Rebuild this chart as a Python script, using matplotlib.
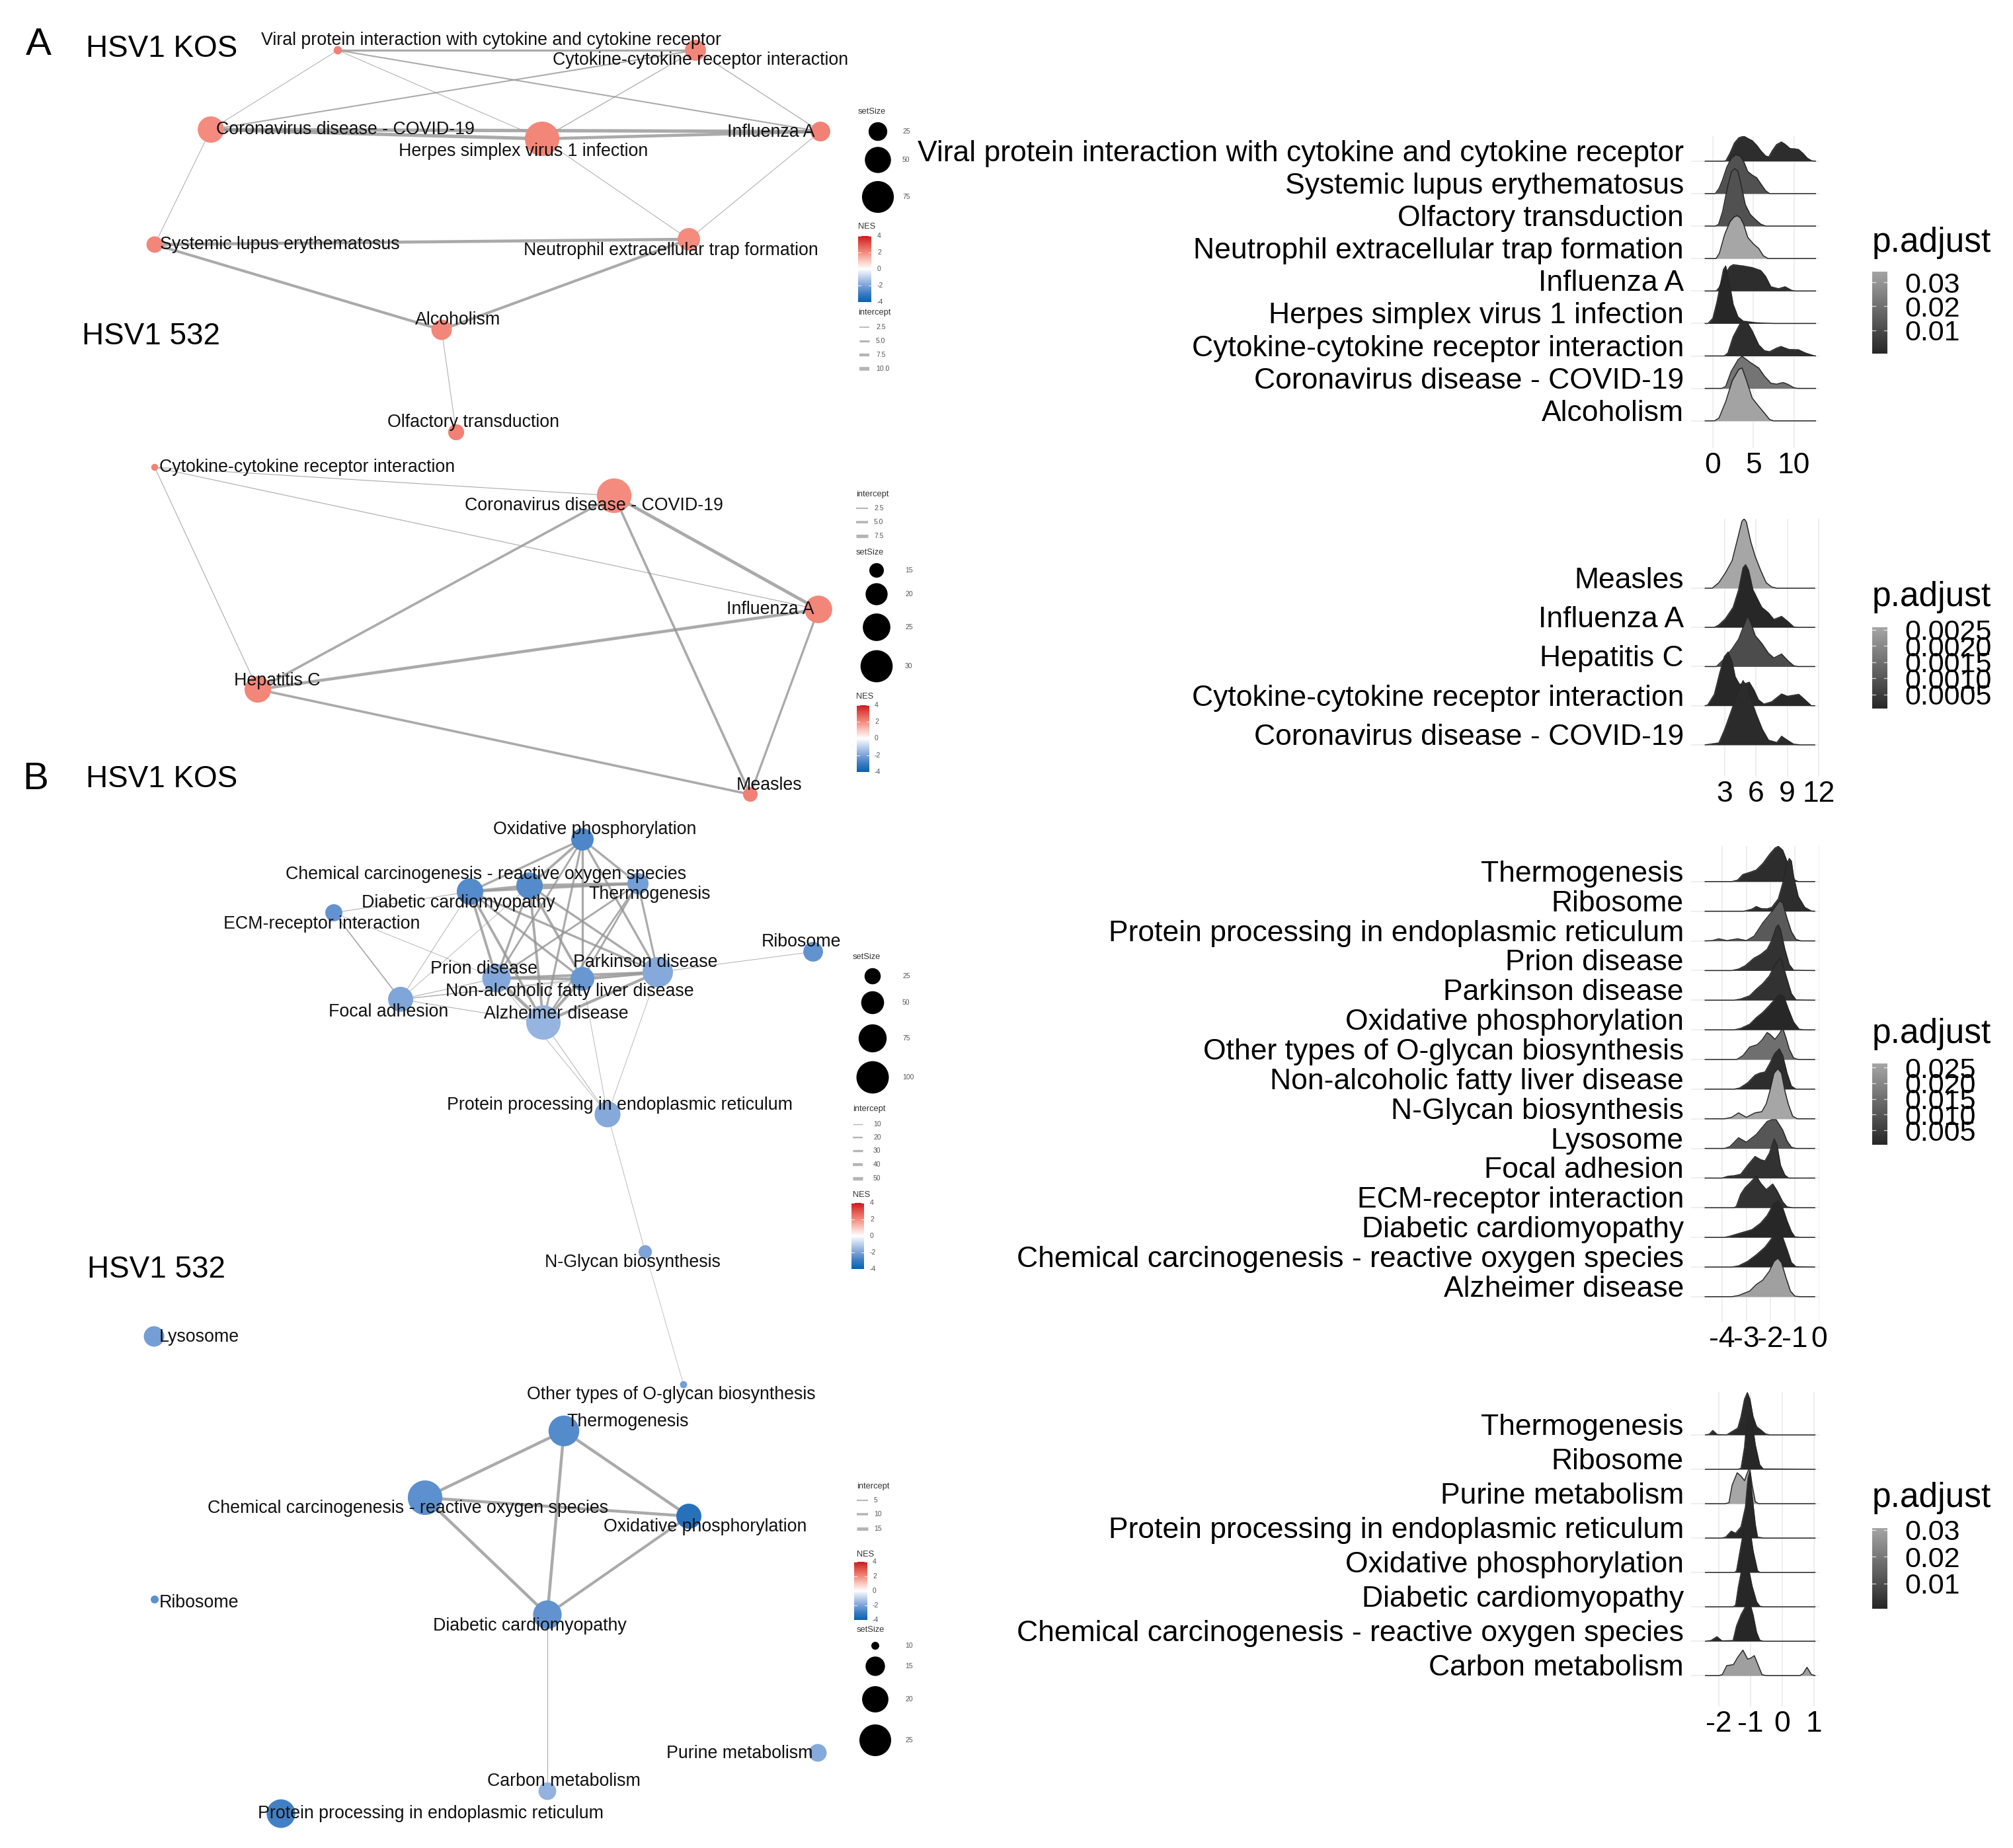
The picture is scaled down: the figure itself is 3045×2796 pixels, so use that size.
import numpy as np
import matplotlib
matplotlib.use("Agg")
import matplotlib.pyplot as plt
from matplotlib.colors import LinearSegmentedColormap, Normalize

plt.rcParams['font.family'] = ['Liberation Sans', 'DejaVu Sans']

W, H, DPI = 3045, 2796, 100

# ----------------- colour scales -----------------
NES_STOPS = [-4, -3, -2, -1, 0, 1, 2, 3, 4]
NES_COLORS = ['#0a61b0', '#3b7cc3', '#7ca3d8', '#bccfec', '#ffffff',
              '#fbc9c0', '#f48c7f', '#e3564c', '#cc1b22']
NES_TICKS = [4, 2, 0, -2, -4]
nes_cmap = LinearSegmentedColormap.from_list(
    'nes', list(zip([(s + 4) / 8 for s in NES_STOPS], NES_COLORS)))
nes_norm = Normalize(-4, 4)
padj_cmap = LinearSegmentedColormap.from_list('padj', ['#272727', '#a6a6a6'])

EDGE_COLOR = '#959595'
LEG_TITLE = '#333333'
LEG_TEXT = '#555555'

# ================= network data =================
# --- A, HSV1 KOS ---
a_kos_terms = ["Viral protein interaction with cytokine and cytokine receptor",
               "Cytokine-cytokine receptor interaction", "Coronavirus disease - COVID-19",
               "Herpes simplex virus 1 infection", "Influenza A", "Systemic lupus erythematosus",
               "Neutrophil extracellular trap formation", "Alcoholism", "Olfactory transduction"]
a_kos_x = [511, 1052, 319, 820, 1241, 234, 1042, 668, 690]
a_kos_y = [76, 76, 196, 210, 199, 370, 362, 499, 654]
a_kos_size = [4, 32, 51, 88, 28, 19, 37, 30, 18]
a_kos_nes = [2.2, 2.1, 2.0, 2.1, 2.2, 2.1, 2.0, 2.1, 2.2]
a_kos_edges = [(0, 1, 5), (0, 2, 1), (0, 3, 1), (0, 4, 3), (1, 2, 3), (1, 3, 1.5),
               (1, 4, 1.5), (2, 3, 9), (2, 4, 9), (3, 4, 8), (2, 5, 1), (3, 6, 1),
               (4, 6, 1), (5, 6, 8), (5, 7, 7), (6, 7, 7), (7, 8, 1)]
a_kos_lab_x = [743, 1060, 522, 792, 1166, 423, 1015, 693, 716]
a_kos_lab_y = [61, 91, 196, 229, 200, 370, 379, 484, 639]

# --- A, HSV1 532 ---
a_532_terms = ["Cytokine-cytokine receptor interaction", "Coronavirus disease - COVID-19",
               "Influenza A", "Hepatitis C", "Measles"]
a_532_x = [234, 929, 1238, 390, 1135]
a_532_y = [707, 750, 922, 1043, 1202]
a_532_size = [12, 33, 25, 24, 15]
a_532_nes = [2.2, 2.0, 2.1, 2.1, 2.2]
a_532_edges = [(0, 1, 1), (0, 2, 1), (0, 3, 1), (1, 3, 5), (1, 2, 7), (1, 4, 5),
               (3, 2, 6.5), (3, 4, 5), (2, 4, 4.5)]
a_532_lab_x = [465, 898, 1165, 419, 1164]
a_532_lab_y = [707, 765, 922, 1030, 1188]

# --- B, HSV1 KOS ---
b_kos_terms = ["Oxidative phosphorylation", "Chemical carcinogenesis - reactive oxygen species",
               "Diabetic cardiomyopathy", "Thermogenesis", "ECM-receptor interaction",
               "Prion disease", "Non-alcoholic fatty liver disease", "Parkinson disease",
               "Focal adhesion", "Alzheimer disease", "Protein processing in endoplasmic reticulum",
               "N-Glycan biosynthesis", "Ribosome", "Lysosome",
               "Other types of O-glycan biosynthesis"]
b_kos_x = [881, 801, 711, 965, 505, 751, 881, 995, 606, 822, 919, 976, 1230, 233, 1034]
b_kos_y = [1270, 1340, 1349, 1337, 1381, 1480, 1481, 1471, 1512, 1547, 1686, 1894, 1440, 2022, 2095]
b_kos_size = [48, 67, 67, 43, 28, 77, 54, 88, 60, 113, 64, 17, 37, 40, 5]
b_kos_nes = [-2.7, -2.6, -2.6, -2.1, -2.4, -1.9, -2.3, -1.85, -1.95, -1.6, -1.85,
             -2.0, -2.4, -2.1, -2.1]
b_kos_edges = [(0, 1, 35), (0, 2, 30), (0, 3, 30), (0, 5, 25), (0, 6, 30), (0, 7, 30), (0, 9, 28),
               (1, 2, 40), (1, 3, 45), (1, 5, 30), (1, 6, 35), (1, 7, 30), (1, 9, 35),
               (2, 3, 30), (2, 5, 35), (2, 6, 30), (2, 7, 30), (2, 9, 35),
               (3, 5, 25), (3, 6, 25), (3, 7, 28), (3, 9, 25),
               (5, 6, 40), (5, 7, 35), (5, 9, 45), (6, 7, 45), (6, 9, 40), (7, 9, 40),
               (4, 2, 6), (4, 8, 14), (4, 5, 4), (8, 2, 5), (8, 1, 4), (8, 5, 6), (8, 6, 5),
               (8, 9, 6), (8, 7, 4), (7, 12, 5), (10, 9, 5), (10, 5, 4), (10, 6, 4),
               (10, 7, 4), (10, 11, 4), (11, 14, 3)]
b_kos_lab_x = [900, 735, 693, 983, 487, 732, 862, 976, 588, 841, 937, 957, 1212, 301, 1015]
b_kos_lab_y = [1255, 1323, 1366, 1353, 1398, 1466, 1500, 1456, 1531, 1534, 1672, 1910, 1425, 2023, 2110]

# --- B, HSV1 532 ---
b_532_terms = ["Thermogenesis", "Chemical carcinogenesis - reactive oxygen species",
               "Oxidative phosphorylation", "Ribosome", "Diabetic cardiomyopathy",
               "Purine metabolism", "Carbon metabolism",
               "Protein processing in endoplasmic reticulum"]
b_532_x = [853, 643, 1042, 234, 828, 1237, 828, 425]
b_532_y = [2165, 2266, 2294, 2420, 2443, 2652, 2710, 2744]
b_532_size = [24, 28, 19, 10, 22, 14, 14, 22]
b_532_nes = [-2.6, -2.5, -3.4, -2.5, -2.4, -1.85, -1.65, -2.9]
b_532_edges = [(0, 1, 13), (0, 2, 13), (0, 4, 13), (1, 2, 13), (1, 4, 13), (2, 4, 12), (4, 6, 2)]
b_532_lab_x = [950, 617, 1067, 301, 801, 1119, 853, 652]
b_532_lab_y = [2151, 2282, 2310, 2425, 2460, 2653, 2695, 2744]

# ================= ridge data (density heights in row units) =================
ridge_a_kos_terms = ["Viral protein interaction with cytokine and cytokine receptor",
                     "Systemic lupus erythematosus", "Olfactory transduction",
                     "Neutrophil extracellular trap formation", "Influenza A",
                     "Herpes simplex virus 1 infection", "Cytokine-cytokine receptor interaction",
                     "Coronavirus disease - COVID-19", "Alcoholism"]
ridge_a_kos_padj = [0.0020, 0.0116, 0.0116, 0.0344, 0.0021, 0.00033, 0.002, 0.021, 0.0335]
ridge_a_kos_x = [
    [-0.95, 1.3, 1.6, 2.1, 2.66, 3.2, 3.8, 4.3, 4.85, 5.4, 5.94, 6.5, 6.9, 7.3, 7.85, 8.45, 8.9, 9.5, 10.0, 10.55, 11.1, 11.65, 12.2, 12.65],
    [-0.95, 0.3, 0.76, 1.17, 1.71, 2.26, 2.8, 3.35, 3.8, 4.3, 4.85, 5.4, 5.94, 6.5, 7.0, 12.65],
    [-0.95, 0.3, 0.7, 1.2, 1.6, 1.9, 2.3, 2.7, 3.1, 3.5, 4.0, 4.6, 5.25, 5.9, 6.5, 12.65],
    [-0.95, 0.4, 0.8, 1.45, 2.1, 2.6, 3.0, 3.4, 3.8, 4.3, 5.0, 5.65, 6.2, 6.8, 12.65],
    [-0.95, 0.4, 0.76, 1.45, 2.1, 2.5, 3.75, 4.85, 5.9, 6.5, 7.15, 8.1, 8.9, 9.7, 10.2, 12.65],
    [-0.95, -0.6, 0.0, 0.5, 0.9, 1.3, 1.58, 2.0, 2.5, 3.1, 3.75, 5.4, 7.5, 12.65],
    [-0.95, 1.4, 1.85, 2.5, 3.35, 4.15, 4.85, 5.65, 6.35, 7.0, 7.85, 8.4, 9.35, 10.55, 11.4, 12.4, 12.65],
    [-0.95, 1.1, 1.58, 2.25, 3.1, 3.6, 4.55, 5.65, 6.35, 7.15, 7.85, 8.65, 9.2, 10.0, 10.5, 12.65],
    [-0.95, 0.2, 0.76, 1.58, 2.4, 3.2, 3.6, 4.15, 4.85, 5.65, 6.35, 7.0, 7.5, 12.65]]
ridge_a_kos_h = [
    [0, 0, 0.01, 0.24, 0.56, 0.72, 0.77, 0.7, 0.63, 0.49, 0.31, 0.16, 0.13, 0.31, 0.51, 0.59, 0.52, 0.39, 0.38, 0.36, 0.24, 0.09, 0.01, 0],
    [0, 0, 0.16, 0.41, 0.81, 1.09, 1.2, 1.16, 0.99, 0.68, 0.57, 0.49, 0.29, 0.09, 0, 0],
    [0, 0, 0.05, 0.45, 0.95, 1.3, 1.68, 1.77, 1.68, 1.24, 0.66, 0.36, 0.2, 0.06, 0, 0],
    [0, 0, 0.16, 0.74, 1.13, 1.28, 1.32, 1.25, 1.05, 0.65, 0.45, 0.31, 0.09, 0, 0],
    [0, 0, 0.1, 0.5, 0.75, 0.81, 0.77, 0.72, 0.63, 0.45, 0.13, 0.07, 0.13, 0.02, 0, 0],
    [0, 0, 0.16, 0.66, 1.16, 1.66, 1.77, 1.3, 0.59, 0.2, 0.07, 0.02, 0, 0],
    [0, 0, 0.09, 0.59, 0.99, 1.06, 0.77, 0.34, 0.16, 0.13, 0.24, 0.29, 0.2, 0.19, 0.09, 0.01, 0],
    [0, 0, 0.06, 0.52, 0.88, 0.99, 0.81, 0.63, 0.38, 0.16, 0.13, 0.18, 0.13, 0.02, 0, 0],
    [0, 0, 0.09, 0.59, 1.24, 1.59, 1.63, 1.24, 0.7, 0.45, 0.24, 0.04, 0, 0]]

ridge_a_532_terms = ["Measles", "Influenza A", "Hepatitis C",
                     "Cytokine-cytokine receptor interaction", "Coronavirus disease - COVID-19"]
ridge_a_532_padj = [0.00258, 0.00007, 0.0008, 0.0001, 0.00015]
ridge_a_532_x = [
    [1.12, 1.8, 2.43, 3.06, 3.7, 4.23, 4.65, 4.86, 5.07, 5.5, 5.92, 6.45, 6.97, 7.5, 8.0, 11.63],
    [1.12, 2.0, 2.43, 3.06, 3.8, 4.33, 4.75, 5.0, 5.28, 5.7, 6.13, 6.55, 7.19, 7.71, 8.45, 9.09, 9.62, 10.0, 11.63],
    [1.12, 2.2, 2.85, 3.7, 4.33, 4.86, 5.18, 5.5, 5.92, 6.55, 7.19, 7.71, 8.45, 9.09, 9.62, 10.0, 11.63],
    [1.12, 1.37, 2.0, 2.53, 2.96, 3.32, 3.7, 4.0, 4.4, 4.8, 5.35, 5.8, 6.23, 6.76, 7.5, 8.45, 9.0, 10.1, 10.57, 11.3, 11.63],
    [1.12, 2.43, 3.0, 3.6, 4.2, 4.75, 5.2, 5.6, 6.0, 6.6, 7.2, 8.0, 8.45, 9.0, 9.6, 10.2, 11.63]]
ridge_a_532_h = [
    [0, 0, 0.14, 0.39, 0.7, 1.26, 1.71, 1.77, 1.69, 1.18, 0.81, 0.45, 0.14, 0.03, 0, 0],
    [0, 0, 0.06, 0.22, 0.51, 0.96, 1.52, 1.6, 1.46, 0.96, 0.73, 0.51, 0.37, 0.2, 0.28, 0.14, 0.01, 0, 0],
    [0, 0, 0.17, 0.45, 0.7, 1.07, 1.29, 1.12, 0.79, 0.59, 0.34, 0.22, 0.32, 0.14, 0.02, 0, 0],
    [0, 0.02, 0.29, 0.85, 1.25, 1.37, 1.13, 0.74, 0.55, 0.55, 0.6, 0.4, 0.15, 0.04, 0.1, 0.3, 0.24, 0.29, 0.18, 0, 0],
    [0, 0.05, 0.4, 0.85, 1.3, 1.64, 1.45, 1.1, 0.8, 0.4, 0.12, 0.06, 0.22, 0.12, 0.02, 0, 0]]

ridge_b_kos_terms = ["Thermogenesis", "Ribosome", "Protein processing in endoplasmic reticulum",
                     "Prion disease", "Parkinson disease", "Oxidative phosphorylation",
                     "Other types of O-glycan biosynthesis", "Non-alcoholic fatty liver disease",
                     "N-Glycan biosynthesis", "Lysosome", "Focal adhesion",
                     "ECM-receptor interaction", "Diabetic cardiomyopathy",
                     "Chemical carcinogenesis - reactive oxygen species", "Alzheimer disease"]
ridge_b_kos_padj = [0.0016, 0.0016, 0.0107, 0.0026, 0.0026, 0.00037, 0.015, 0.0016,
                    0.0263, 0.0099, 0.0026, 0.0026, 0.0004, 0.0004, 0.025]
ridge_b_kos_x = [
    [-4.7, -3.6, -3.36, -3.14, -2.86, -2.59, -2.32, -2.05, -1.82, -1.68, -1.5, -1.32, -1.14, -1.0, -0.85, -0.18],
    [-4.7, -3.1, -2.77, -2.59, -2.4, -2.15, -1.95, -1.68, -1.5, -1.36, -1.23, -1.14, -1.05, -0.86, -0.59, -0.32, -0.18],
    [-4.7, -4.4, -4.14, -3.8, -3.36, -3.0, -2.68, -2.32, -1.95, -1.64, -1.5, -1.32, -1.14, -0.95, -0.75, -0.18],
    [-4.7, -3.6, -3.32, -3.05, -2.68, -2.41, -2.14, -1.95, -1.77, -1.68, -1.59, -1.41, -1.23, -1.05, -0.18],
    [-4.7, -3.5, -3.23, -2.86, -2.59, -2.32, -2.05, -1.86, -1.64, -1.55, -1.36, -1.14, -0.95, -0.18],
    [-4.7, -3.5, -3.23, -2.86, -2.59, -2.32, -2.05, -1.77, -1.59, -1.45, -1.27, -1.05, -0.82, -0.6, -0.18],
    [-4.7, -3.4, -3.14, -2.86, -2.55, -2.36, -2.14, -2.0, -1.82, -1.64, -1.5, -1.36, -1.23, -1.05, -0.85, -0.18],
    [-4.7, -3.5, -3.27, -2.95, -2.64, -2.45, -2.23, -2.05, -1.82, -1.64, -1.5, -1.32, -1.14, -0.95, -0.18],
    [-4.7, -3.9, -3.6, -3.32, -3.0, -2.64, -2.36, -2.18, -2.05, -1.86, -1.7, -1.55, -1.41, -1.27, -1.09, -0.9, -0.18],
    [-4.7, -3.9, -3.68, -3.32, -3.0, -2.59, -2.14, -1.95, -1.77, -1.5, -1.32, -1.14, -0.95, -0.18],
    [-4.7, -4.0, -3.77, -3.5, -3.23, -2.95, -2.64, -2.41, -2.23, -2.05, -1.85, -1.73, -1.59, -1.41, -1.25, -0.18],
    [-4.7, -3.5, -3.41, -3.23, -3.05, -2.86, -2.59, -2.41, -2.18, -1.91, -1.73, -1.5, -1.32, -1.1, -0.18],
    [-4.7, -3.9, -3.68, -3.23, -2.77, -2.41, -2.14, -1.86, -1.68, -1.5, -1.32, -1.14, -1.0, -0.8, -0.18],
    [-4.7, -3.6, -3.32, -2.95, -2.59, -2.23, -1.95, -1.68, -1.55, -1.32, -1.14, -0.95, -0.18],
    [-4.7, -3.6, -3.32, -2.86, -2.59, -2.32, -2.05, -1.86, -1.7, -1.55, -1.36, -1.18, -1.0, -0.8, -0.18]]
ridge_b_kos_h = [
    [0, 0, 0.05, 0.24, 0.31, 0.39, 0.61, 0.91, 1.13, 1.19, 1.06, 0.68, 0.24, 0.05, 0, 0],
    [0, 0, 0.07, 0.16, 0.09, 0.08, 0.13, 0.42, 0.94, 1.5, 1.78, 1.69, 1.17, 0.5, 0.13, 0.01, 0],
    [0, 0.01, 0.07, 0.01, 0.07, 0.01, 0.16, 0.61, 0.98, 1.35, 1.28, 0.76, 0.31, 0.05, 0, 0],
    [0, 0, 0.05, 0.16, 0.42, 0.54, 0.72, 1.02, 1.46, 1.54, 1.39, 0.72, 0.2, 0.01, 0],
    [0, 0, 0.04, 0.15, 0.37, 0.56, 0.82, 1.12, 1.41, 1.34, 0.82, 0.22, 0.01, 0],
    [0, 0, 0.05, 0.19, 0.41, 0.59, 0.82, 1.08, 1.19, 1.12, 0.71, 0.26, 0.02, 0, 0],
    [0, 0, 0.13, 0.42, 0.5, 0.65, 0.91, 0.83, 0.68, 0.87, 1.06, 0.72, 0.35, 0.05, 0, 0],
    [0, 0, 0.04, 0.21, 0.47, 0.54, 0.58, 0.84, 1.21, 1.36, 1.14, 0.54, 0.1, 0, 0],
    [0, 0, 0.05, 0.2, 0.05, 0.2, 0.24, 0.5, 0.87, 1.54, 1.69, 1.54, 0.94, 0.5, 0.09, 0, 0],
    [0, 0, 0.06, 0.36, 0.21, 0.47, 0.91, 0.97, 0.97, 0.62, 0.25, 0.04, 0, 0],
    [0, 0, 0.06, 0.08, 0.13, 0.43, 0.73, 0.62, 0.58, 0.84, 1.32, 1.1, 0.43, 0.1, 0, 0],
    [0, 0, 0.05, 0.46, 0.68, 0.83, 1.07, 0.83, 0.61, 0.8, 0.57, 0.2, 0.03, 0, 0],
    [0, 0, 0.04, 0.15, 0.26, 0.48, 0.74, 1.15, 1.23, 1.0, 0.56, 0.19, 0.02, 0, 0],
    [0, 0, 0.04, 0.19, 0.41, 0.67, 0.97, 1.26, 1.12, 0.59, 0.15, 0.01, 0],
    [0, 0, 0.04, 0.19, 0.41, 0.56, 0.86, 1.19, 1.3, 1.15, 0.63, 0.19, 0.02, 0, 0]]

ridge_b_532_terms = ["Thermogenesis", "Ribosome", "Purine metabolism",
                     "Protein processing in endoplasmic reticulum", "Oxidative phosphorylation",
                     "Diabetic cardiomyopathy", "Chemical carcinogenesis - reactive oxygen species",
                     "Carbon metabolism"]
ridge_b_532_padj = [0.0013, 0.0008, 0.0307, 0.0006, 0.0006, 0.0007, 0.0008, 0.029]
ridge_b_532_x = [
    [-2.42, -2.3, -2.19, -2.05, -1.75, -1.65, -1.4, -1.3, -1.19, -1.1, -1.02, -0.92, -0.81, -0.67, -0.53, -0.4, 1.03],
    [-2.42, -1.4, -1.3, -1.19, -1.13, -1.03, -0.95, -0.85, -0.71, -0.6, 1.03],
    [-2.42, -1.8, -1.68, -1.58, -1.42, -1.3, -1.19, -1.13, -1.03, -0.95, -0.85, -0.75, 1.03],
    [-2.42, -1.9, -1.78, -1.61, -1.47, -1.3, -1.16, -1.08, -1.02, -0.95, -0.85, -0.78, -0.6, 1.03],
    [-2.42, -1.5, -1.44, -1.33, -1.23, -1.1, -1.02, -0.92, -0.78, -0.7, 1.03],
    [-2.42, -1.55, -1.47, -1.38, -1.26, -1.17, -1.09, -0.95, -0.81, -0.71, -0.6, 1.03],
    [-2.42, -2.25, -2.06, -1.9, -1.55, -1.44, -1.3, -1.13, -1.03, -0.92, -0.81, -0.71, -0.6, 1.03],
    [-2.42, -2.0, -1.89, -1.75, -1.54, -1.4, -1.24, -1.09, -0.99, -0.88, -0.78, -0.64, -0.5, 0.55, 0.65, 0.78, 0.92, 1.03]]
ridge_b_532_h = [
    [0, 0.02, 0.13, 0.01, 0, 0.06, 0.2, 0.53, 1.04, 1.23, 1.04, 0.53, 0.24, 0.14, 0.03, 0, 0],
    [0, 0, 0.03, 0.64, 1.28, 1.62, 1.35, 0.71, 0.13, 0.01, 0],
    [0, 0, 0.03, 0.54, 0.9, 0.8, 0.67, 0.83, 1.06, 0.54, 0.06, 0, 0],
    [0, 0, 0.03, 0.2, 0.14, 0.33, 0.91, 1.74, 1.94, 1.23, 0.4, 0.03, 0, 0],
    [0, 0, 0.05, 0.63, 1.14, 1.58, 1.27, 0.63, 0.05, 0, 0],
    [0, 0, 0.05, 0.6, 1.17, 1.46, 1.24, 0.6, 0.15, 0.02, 0, 0],
    [0, 0.02, 0.13, 0.01, 0.02, 0.45, 0.77, 1.06, 1.15, 0.77, 0.26, 0.03, 0, 0],
    [0, 0, 0.03, 0.29, 0.32, 0.54, 0.74, 0.48, 0.51, 0.58, 0.35, 0.03, 0, 0, 0.05, 0.24, 0.03, 0]]

# ================= figure =================
fig = plt.figure(figsize=(W / DPI, H / DPI), dpi=DPI)
canvas = fig.add_axes([0, 0, 1, 1])
canvas.set_xlim(0, W)
canvas.set_ylim(H, 0)
canvas.axis('off')


def px_rect(left, top, right, bottom):
    return [left / W, 1 - bottom / H, (right - left) / W, (bottom - top) / H]


def radius(sizes, a, b):
    return np.sqrt(np.maximum(a * np.asarray(sizes, float) + b, 4))


def draw_network(xs, ys, sizes, nes, edges, terms, lab_x, lab_y, area, lw):
    for i, j, w in edges:
        canvas.plot([xs[i], xs[j]], [ys[i], ys[j]], color=EDGE_COLOR, alpha=0.8,
                    lw=lw[0] + lw[1] * w, solid_capstyle='butt', zorder=1)
    r = radius(sizes, *area)
    canvas.scatter(xs, ys, s=(2 * r * 72 / DPI) ** 2, c=nes, cmap=nes_cmap, norm=nes_norm,
                   edgecolors='none', zorder=2)
    for t, x, y in zip(terms, lab_x, lab_y):
        canvas.text(x, y, t, fontsize=19.3, ha='center', va='center', color='#111111', zorder=3)


def size_legend(tx, ty, values, cx, cys, lab_x, area):
    canvas.text(tx, ty, "setSize", fontsize=9.3, color=LEG_TITLE, va='center')
    r = radius(values, *area)
    canvas.scatter([cx] * len(values), cys, s=(2 * r * 72 / DPI) ** 2, color='black',
                   edgecolors='none', zorder=2)
    for v, y in zip(values, cys):
        canvas.text(lab_x, y, str(v), fontsize=7.5, color=LEG_TEXT, va='center')


def width_legend(tx, ty, values, x0, x1, ys, lab_x, lw, fmt):
    canvas.text(tx, ty, "intercept", fontsize=9.3, color=LEG_TITLE, va='center')
    for v, y in zip(values, ys):
        canvas.plot([x0, x1], [y, y], color='#b5b5b5', lw=lw[0] + lw[1] * v, solid_capstyle='butt')
        canvas.text(lab_x, y, fmt.format(v), fontsize=7.5, color=LEG_TEXT, va='center')


def nes_legend(tx, ty, rect, lab_x):
    canvas.text(tx, ty, "NES", fontsize=9.3, color=LEG_TITLE, va='center')
    left, top, right, bottom = rect
    cax = fig.add_axes(px_rect(*rect))
    grad = np.linspace(-4, 4, 256).reshape(-1, 1)
    cax.imshow(grad, aspect='auto', cmap=nes_cmap, norm=nes_norm, origin='lower',
               extent=[0, 1, -4, 4])
    for t in NES_TICKS:
        cax.plot([0, 0.2], [t, t], color='white', lw=0.6)
        cax.plot([0.8, 1], [t, t], color='white', lw=0.6)
        canvas.text(lab_x, top + (4 - t) / 8 * (bottom - top), str(t), fontsize=7.5,
                    color=LEG_TEXT, va='center')
    cax.set_xlim(0, 1)
    cax.set_ylim(-4, 4)
    cax.set_axis_off()


def draw_ridges(rect, xlim, ylim, terms, padj, xs, hs, ticks, cb_rect, cb_ticks, cb_labels, title_y):
    ax = fig.add_axes(px_rect(*rect))
    n = len(terms)
    norm = Normalize(min(padj), max(padj))
    for t in ticks:
        ax.axvline(t, color='#ebebeb', lw=1.2, zorder=0)
    for k in range(n):
        ax.axhline(k, color='#ebebeb', lw=1.2, zorder=0)
    for i in range(n):
        base = n - 1 - i
        x = np.asarray(xs[i])
        top = base + np.asarray(hs[i])
        ax.fill_between(x, base, top, color=padj_cmap(norm(padj[i])), lw=0, zorder=2 + 2 * i)
        ax.plot(x, top, color='#262626', lw=1.1, zorder=3 + 2 * i)
    ax.set_xlim(xlim)
    ax.set_ylim(ylim)
    ax.set_yticks(range(n))
    ax.set_yticklabels(terms[::-1], fontsize=32)
    for lab in ax.get_yticklabels():
        lab.set_va('baseline')
    ax.set_xticks(ticks)
    ax.set_xticklabels([str(t) for t in ticks], fontsize=32)
    ax.tick_params(axis='y', length=0, pad=8)
    ax.tick_params(axis='x', length=0, pad=4)
    for s in ax.spines.values():
        s.set_visible(False)
    ax.set_facecolor('none')

    # p.adjust colour bar
    canvas.text(cb_rect[0], title_y, "p.adjust", fontsize=37, va='baseline')
    cax = fig.add_axes(px_rect(*cb_rect))
    vmin, vmax = min(padj), max(padj)
    grad = np.linspace(vmin, vmax, 256).reshape(-1, 1)
    cax.imshow(grad, aspect='auto', cmap=padj_cmap, norm=norm, origin='lower',
               extent=[0, 1, vmin, vmax])
    for t in cb_ticks:
        cax.plot([0, 0.2], [t, t], color='white', lw=1, alpha=0.7)
        cax.plot([0.8, 1], [t, t], color='white', lw=1, alpha=0.7)
    cax.set_xlim(0, 1)
    cax.set_ylim(vmin, vmax)
    cax.set_xticks([])
    cax.yaxis.tick_right()
    cax.set_yticks(cb_ticks)
    cax.set_yticklabels(cb_labels, fontsize=31)
    cax.tick_params(axis='y', length=0, pad=19)
    for s in cax.spines.values():
        s.set_visible(False)


# ---------------- panel letters & headers ----------------
canvas.text(58, 68, "A", fontsize=42, ha='center', va='center')
canvas.text(54, 1179, "B", fontsize=42, ha='center', va='center')
canvas.text(130, 74, "HSV1 KOS", fontsize=33, va='center')
canvas.text(124, 509, "HSV1 532", fontsize=33, va='center')
canvas.text(130, 1179, "HSV1 KOS", fontsize=33, va='center')
canvas.text(132, 1921, "HSV1 532", fontsize=33, va='center')

# ---------------- networks ----------------
draw_network(a_kos_x, a_kos_y, a_kos_size, a_kos_nes, a_kos_edges, a_kos_terms,
             a_kos_lab_x, a_kos_lab_y, (7.6, 10), (0.35, 0.37))
draw_network(a_532_x, a_532_y, a_532_size, a_532_nes, a_532_edges, a_532_terms,
             a_532_lab_x, a_532_lab_y, (31.3, -348), (0.35, 0.45))
draw_network(b_kos_x, b_kos_y, b_kos_size, b_kos_nes, b_kos_edges, b_kos_terms,
             b_kos_lab_x, b_kos_lab_y, (6.0, 0), (0.3, 0.07))
draw_network(b_532_x, b_532_y, b_532_size, b_532_nes, b_532_edges, b_532_terms,
             b_532_lab_x, b_532_lab_y, (36, -324), (0.35, 0.22))

# ---------------- network legends ----------------
size_legend(1298, 169, [25, 50, 75], 1328, [199, 242, 298], 1365, (7.6, 10))
nes_legend(1298, 343, (1298, 357, 1318, 457), 1327)
width_legend(1298, 473, [2.5, 5.0, 7.5, 10.0], 1300, 1315, [495, 516, 537, 558], 1325,
             (0.35, 0.37), "{:.1f}")

width_legend(1295, 748, [2.5, 5.0, 7.5], 1295, 1313, [769, 790, 811], 1322, (0.35, 0.45), "{:.1f}")
size_legend(1295, 836, [15, 20, 25, 30], 1326, [863, 899, 949, 1008], 1369, (31.3, -348))
nes_legend(1295, 1054, (1296, 1067, 1315, 1168), 1323)

size_legend(1290, 1448, [25, 50, 75, 100], 1320, [1477, 1517, 1571, 1630], 1365, (6.0, 0))
width_legend(1290, 1678, [10, 20, 30, 40, 50], 1290, 1305, [1701, 1721, 1741, 1762, 1783], 1321,
             (0.3, 0.07), "{:d}")
nes_legend(1290, 1808, (1288, 1820, 1307, 1920), 1316)

width_legend(1296, 2249, [5, 10, 15], 1296, 1313, [2270, 2291, 2313], 1322, (0.35, 0.22), "{:d}")
nes_legend(1296, 2352, (1292, 2363, 1312, 2451), 1320)
size_legend(1296, 2466, [10, 15, 20, 25], 1324, [2490, 2521, 2571, 2633], 1369, (36, -324))

# ---------------- ridge plots ----------------
draw_ridges((2558, 206, 2752, 678), (-2.69, 13.12), (-0.84, 8.77),
            ridge_a_kos_terms, ridge_a_kos_padj, ridge_a_kos_x, ridge_a_kos_h, [0, 5, 10],
            (2832, 411, 2855, 535), [0.01, 0.02, 0.03], ["0.01", "0.02", "0.03"], 381)
draw_ridges((2558, 785, 2752, 1175), (-0.235, 12.07), (-0.81, 5.77),
            ridge_a_532_terms, ridge_a_532_padj, ridge_a_532_x, ridge_a_532_h, [3, 6, 9, 12],
            (2832, 949, 2855, 1072), [0.0005, 0.0010, 0.0015, 0.0020, 0.0025],
            ["0.0005", "0.0010", "0.0015", "0.0020", "0.0025"], 917)
draw_ridges((2558, 1280, 2752, 2000), (-5.28, 0.01), (-0.85, 15.2),
            ridge_b_kos_terms, ridge_b_kos_padj, ridge_b_kos_x, ridge_b_kos_h, [-4, -3, -2, -1, 0],
            (2832, 1609, 2855, 1732), [0.005, 0.010, 0.015, 0.020, 0.025],
            ["0.005", "0.010", "0.015", "0.020", "0.025"], 1578)
draw_ridges((2558, 2106, 2752, 2582), (-2.875, 1.167), (-0.9, 8.25),
            ridge_b_532_terms, ridge_b_532_padj, ridge_b_532_x, ridge_b_532_h, [-2, -1, 0, 1],
            (2832, 2312, 2855, 2434), [0.01, 0.02, 0.03], ["0.01", "0.02", "0.03"], 2280)

fig.savefig("out.png", dpi=DPI, facecolor='white')
